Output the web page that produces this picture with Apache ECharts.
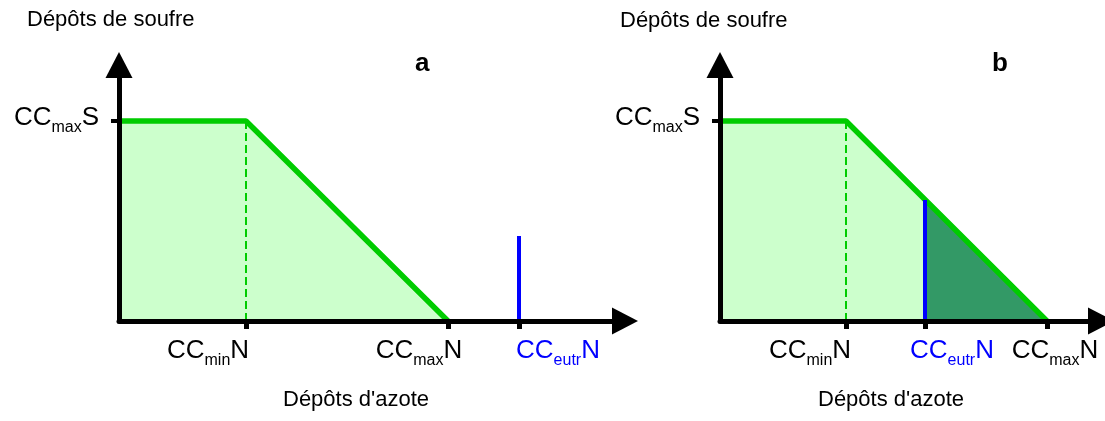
<!DOCTYPE html>
<html>
<head>
<meta charset="utf-8">
<script src="https://cdn.jsdelivr.net/npm/echarts@6/dist/echarts.min.js"></script>
<style>
html, body { margin: 0; padding: 0; background: #fff; }
#main { width: 1105px; height: 421px; }
</style>
</head>
<body>
<div id="main"></div>
<script>
// values (axis units: 1 = 100 px)
var panelNames = ['a', 'b'];
var ccMaxS = [2.0, 2.0];
var ccMinN = [1.27, 1.26];
var ccMaxN = [3.29, 3.27];
var ccEutrN = [4.0, 2.05];
var eutrTop = [0.85, 1.21];
var xTitle = "Dépôts d'azote";
var yTitle = 'Dépôts de soufre';
var xTickSub = ['min', 'max', 'eutr'];
var yTickSub = 'max';

// layout
var FONT = "'Liberation Sans', Arial, sans-serif";
var GREEN = '#00cc00', LIGHT = '#ccffcc', DARK = '#339966', BLUE = '#0000ff';
var grids = [
    {left: 119, right: 480, top: 65, bottom: 100},
    {left: 720, right: 4, top: 65, bottom: 100}
];
var xMax = [5.06, 3.81];
var yMax = 2.56;
// shift of each x label centre from its tick (min, max, eutr)
var labelShift = [[-38, -29, 39], [-36, 8, 27]];
var titlePos = [
    {soufre: [27, 9], azote: [283, 389], letter: [415, 51]},
    {soufre: [620, 10], azote: [818, 389], letter: [992, 51]}
];

function richBase() {
    return {
        c: {fontSize: 26, fontFamily: FONT, color: '#000'},
        s: {fontSize: 16, fontFamily: FONT, color: '#000', lineHeight: 36, verticalAlign: 'bottom'},
        ce: {fontSize: 26, fontFamily: FONT, color: BLUE},
        se: {fontSize: 16, fontFamily: FONT, color: BLUE, lineHeight: 36, verticalAlign: 'bottom'}
    };
}

var option = {
    animation: false,
    backgroundColor: '#fff',
    title: [],
    grid: grids,
    xAxis: [],
    yAxis: [],
    series: []
};

panelNames.forEach(function (name, p) {
    var tp = titlePos[p];
    option.title.push(
        {text: yTitle, left: tp.soufre[0], top: tp.soufre[1], padding: 0,
         textStyle: {fontSize: 22, fontWeight: 'normal', fontFamily: FONT, color: '#000'}},
        {text: xTitle, left: tp.azote[0], top: tp.azote[1], padding: 0,
         textStyle: {fontSize: 22, fontWeight: 'normal', fontFamily: FONT, color: '#000'}},
        {text: name, left: tp.letter[0], top: tp.letter[1], padding: 0,
         textStyle: {fontSize: 26, fontWeight: 'bold', fontFamily: FONT, color: '#000'}}
    );

    var ticks = [ccMinN[p], ccMaxN[p], ccEutrN[p]];
    var mainX = option.xAxis.length;
    option.xAxis.push({
        type: 'value', gridIndex: p, min: 0, max: xMax[p], z: 10, position: 'bottom',
        splitLine: {show: false},
        axisLine: {show: true, onZero: false, lineStyle: {color: '#000', width: 5},
                   symbol: ['none', 'triangle'], symbolSize: [27, 26]},
        axisTick: {show: true, customValues: ticks, length: 8, inside: false,
                   lineStyle: {color: '#000', width: 5}},
        axisLabel: {show: false}
    });
    // one label-only axis per tick, so each label can sit off its tick like the original
    ticks.forEach(function (t, i) {
        var d = labelShift[p][i];
        var c = i === 2 ? 'ce' : 'c', s = i === 2 ? 'se' : 's';
        option.xAxis.push({
            type: 'value', gridIndex: p, min: 0, max: xMax[p], position: 'bottom', offset: 0,
            splitLine: {show: false},
            axisLine: {show: false, onZero: false},
            axisTick: {show: false},
            axisLabel: {
                show: true, customValues: [t], margin: 12,
                showMinLabel: true, showMaxLabel: true,
                padding: d < 0 ? [0, -2 * d, 0, 0] : [0, 0, 0, 2 * d],
                rich: richBase(),
                formatter: function () {
                    return '{' + c + '|CC}{' + s + '|' + xTickSub[i] + '}{' + c + '|N}';
                }
            }
        });
    });

    option.yAxis.push({
        type: 'value', gridIndex: p, min: 0, max: yMax, z: 10,
        splitLine: {show: false},
        axisLine: {show: true, onZero: false, lineStyle: {color: '#000', width: 5},
                   symbol: ['none', 'triangle'], symbolSize: [27, 26]},
        axisTick: {show: true, customValues: [ccMaxS[p]], length: 8, inside: false,
                   lineStyle: {color: '#000', width: 4}},
        axisLabel: {
            show: true, customValues: [ccMaxS[p]], margin: 20, padding: [0, 0, 6, 0],
            showMinLabel: true, showMaxLabel: true,
            rich: richBase(),
            formatter: function () { return '{c|CC}{s|' + yTickSub + '}{c|S}'; }
        }
    });

    // light green area under the critical load function
    option.series.push({
        type: 'line', xAxisIndex: mainX, yAxisIndex: p, symbol: 'none', z: 2,
        data: [[0, ccMaxS[p]], [ccMinN[p], ccMaxS[p]], [ccMaxN[p], 0]],
        lineStyle: {width: 0},
        areaStyle: {color: LIGHT, opacity: 1}
    });
    // exceedance area (only when CCeutrN lies inside)
    if (ccEutrN[p] < ccMaxN[p]) {
        option.series.push({
            type: 'line', xAxisIndex: mainX, yAxisIndex: p, symbol: 'none', z: 3,
            data: [[ccEutrN[p], eutrTop[p]], [ccMaxN[p], 0]],
            lineStyle: {width: 0},
            areaStyle: {color: DARK, opacity: 1}
        });
    }
    // dashed line at CCminN
    option.series.push({
        type: 'line', xAxisIndex: mainX, yAxisIndex: p, symbol: 'none', z: 4,
        data: [[ccMinN[p], 0], [ccMinN[p], ccMaxS[p]]],
        lineStyle: {color: GREEN, width: 2, type: [8, 4]}
    });
    // critical load function
    option.series.push({
        type: 'line', xAxisIndex: mainX, yAxisIndex: p, symbol: 'none', z: 5,
        data: [[0, ccMaxS[p]], [ccMinN[p], ccMaxS[p]], [ccMaxN[p], 0]],
        lineStyle: {color: GREEN, width: 5.5}
    });
    // CCeutrN
    option.series.push({
        type: 'line', xAxisIndex: mainX, yAxisIndex: p, symbol: 'none', z: 6,
        data: [[ccEutrN[p], 0], [ccEutrN[p], eutrTop[p]]],
        lineStyle: {color: BLUE, width: 4}
    });
});

var chart = echarts.init(document.getElementById('main'));
chart.setOption(option);
</script>
</body>
</html>
